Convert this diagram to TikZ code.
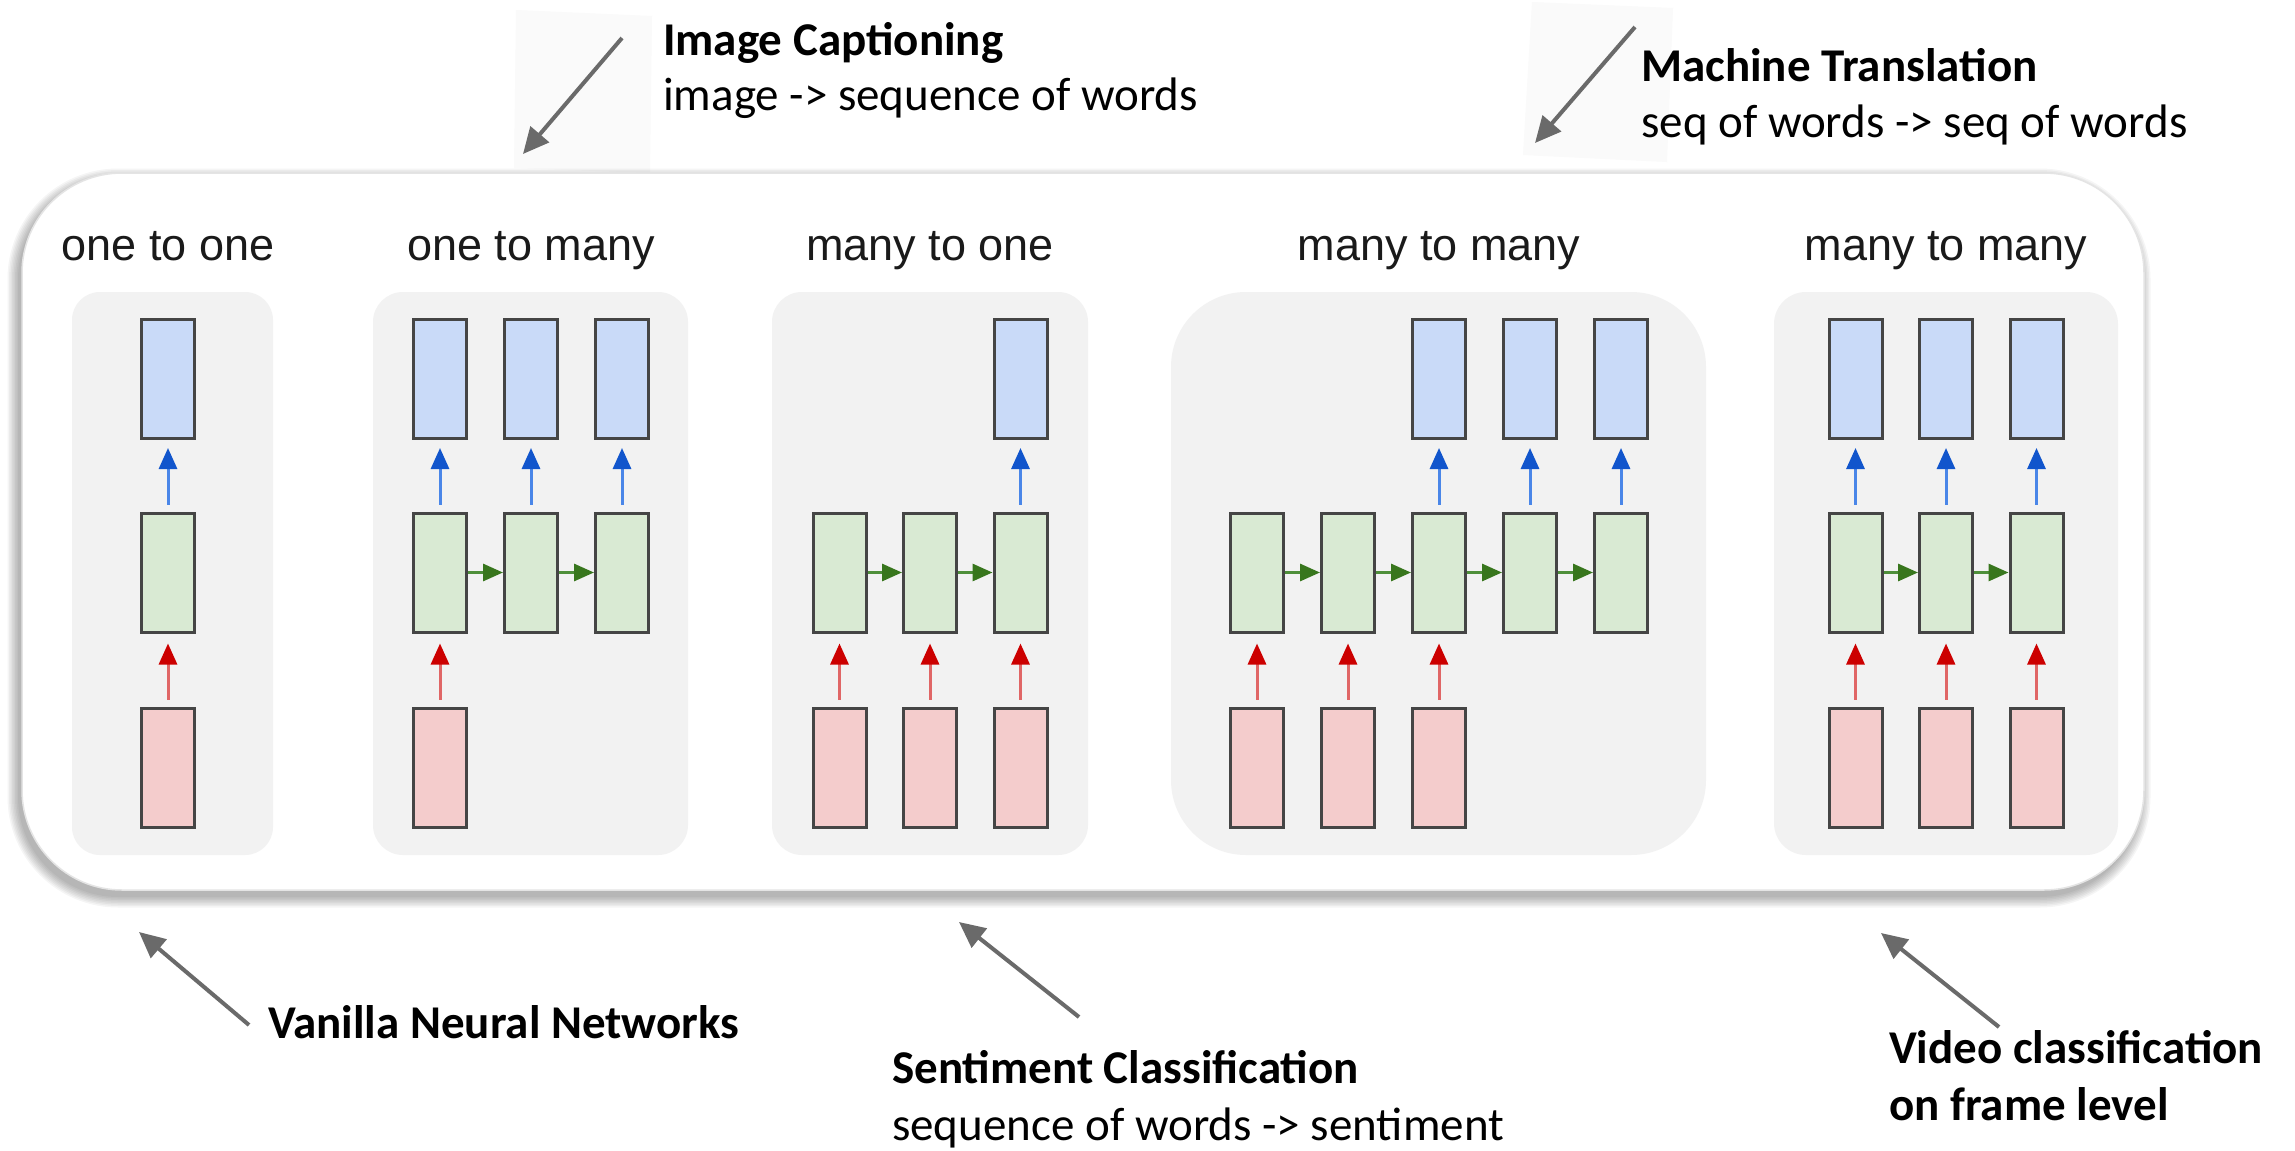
\documentclass[tikz,border=0pt]{standalone}
\usepackage{fontspec}
\setmainfont{Carlito}
\newfontfamily\titlefont{Liberation Sans}
\usetikzlibrary{arrows.meta,calc}

\definecolor{outFill}{HTML}{C9DAF8}
\definecolor{hidFill}{HTML}{D9EAD3}
\definecolor{inFill}{HTML}{F4CCCC}
\definecolor{cellEdge}{HTML}{454545}
\definecolor{panelFill}{HTML}{F2F2F2}
\definecolor{frameEdge}{HTML}{E4E4E4}
\definecolor{titleInk}{HTML}{1A1A1A}
\definecolor{outShaft}{HTML}{4A86E8}
\definecolor{outTip}{HTML}{1155CC}
\definecolor{inShaft}{HTML}{E06666}
\definecolor{inTip}{HTML}{CC0000}
\definecolor{recShaft}{HTML}{4E8F3A}
\definecolor{recTip}{HTML}{38761D}
\definecolor{pointerInk}{HTML}{6A6A6A}
\definecolor{noteBack}{HTML}{FAFAFA}

\begin{document}
\begin{tikzpicture}[x=1pt,y=-1pt,
  cell/.style={draw=cellEdge, line width=3pt, minimum width=53pt, minimum height=119pt, inner sep=0pt},
  outcell/.style={cell, fill=outFill},
  hidcell/.style={cell, fill=hidFill},
  incell/.style={cell, fill=inFill},
  panel/.style={fill=panelFill},
  title/.style={font=\titlefont\fontsize{45}{54}\selectfont, text=titleInk, anchor=base, inner sep=0pt},
  headline/.style={font=\bfseries\fontsize{47}{56}\selectfont, anchor=base west, inner sep=0pt},
  subline/.style={font=\fontsize{47}{56}\selectfont, anchor=base west, inner sep=0pt},
  toOut/.style={draw=outShaft, line width=3pt, -{Triangle[length=21pt,width=18pt,color=outTip]}, shorten <=7pt, shorten >=8pt},
  fromIn/.style={draw=inShaft, line width=3pt, -{Triangle[length=21pt,width=18pt,color=inTip]}, shorten <=7pt, shorten >=10pt},
  recur/.style={draw=recShaft, line width=3pt, -{Triangle[length=20pt,width=17pt,color=recTip]}},
  pointer/.style={draw=pointerInk, line width=4pt, -{Triangle[length=26pt,width=24pt]}},
]
\useasboundingbox (0,0) rectangle (2295,1151);
\fill[white] (0,0) rectangle (2295,1151);

% faint backdrops behind the upper pointers
\fill[noteBack] (516,10) -- (652,16) -- (650,173) -- (514,168) -- cycle;
\fill[noteBack] (1532,2) -- (1673,8) -- (1667,162) -- (1523,155) -- cycle;

% soft shadow under the main frame
\foreach \e in {0,1.5,...,10.5}
  \fill[black, opacity=0.04, rounded corners=100pt+\e pt]
    (22-4-\e,173+6-\e) rectangle (2144-4+\e,890+7+\e);

% main frame
\filldraw[fill=white, draw=frameEdge, line width=1.5pt, rounded corners=100pt]
  (22,173) rectangle (2144,890);

% panels
\fill[panel, rounded corners=28pt] (72,292) rectangle (273,855);
\fill[panel, rounded corners=30pt] (373,292) rectangle (688,855);
\fill[panel, rounded corners=30pt] (772,292) rectangle (1088,855);
\fill[panel, rounded corners=75pt] (1171,292) rectangle (1706,855);
\fill[panel, rounded corners=32pt] (1774,292) rectangle (2118,855);

% panel titles
\node[title] (t1) at (168,260) {one to one};
\node[title] (t2) at (531,260) {one to many};
\node[title] (t3) at (930,260) {many to one};
\node[title] (t4) at (1439,260) {many to many};
\node[title] (t5) at (1946,260) {many to many};

% one to one
\node[outcell] (aO1) at (168,379) {};
\node[hidcell] (aH1) at (168,572.5) {};
\node[incell]  (aI1) at (168,767.5) {};
\draw[toOut]  (aH1.north) -- (aO1.south);
\draw[fromIn] (aI1.north) -- (aH1.south);

% one to many
\foreach \x [count=\i] in {440,531,622} {
  \node[outcell] (bO\i) at (\x,379) {};
  \node[hidcell] (bH\i) at (\x,572.5) {};
  \draw[toOut] (bH\i.north) -- (bO\i.south);
}
\node[incell] (bI1) at (440,767.5) {};
\draw[fromIn] (bI1.north) -- (bH1.south);
\draw[recur] (bH1.east) -- (bH2.west);
\draw[recur] (bH2.east) -- (bH3.west);

% many to one
\foreach \x [count=\i] in {839.5,930,1020.5} {
  \node[hidcell] (cH\i) at (\x,572.5) {};
  \node[incell]  (cI\i) at (\x,767.5) {};
  \draw[fromIn] (cI\i.north) -- (cH\i.south);
}
\node[outcell] (cO3) at (1020.5,379) {};
\draw[toOut] (cH3.north) -- (cO3.south);
\draw[recur] (cH1.east) -- (cH2.west);
\draw[recur] (cH2.east) -- (cH3.west);

% many to many (delayed)
\foreach \x [count=\i] in {1257,1348,1439,1530,1621} {
  \node[hidcell] (dH\i) at (\x,572.5) {};
}
\foreach \x [count=\i] in {1257,1348,1439} {
  \node[incell] (dI\i) at (\x,767.5) {};
  \draw[fromIn] (dI\i.north) -- (dH\i.south);
}
\foreach \i/\x in {3/1439,4/1530,5/1621} {
  \node[outcell] (dO\i) at (\x,379) {};
  \draw[toOut] (dH\i.north) -- (dO\i.south);
}
\draw[recur] (dH1.east) -- (dH2.west);
\draw[recur] (dH2.east) -- (dH3.west);
\draw[recur] (dH3.east) -- (dH4.west);
\draw[recur] (dH4.east) -- (dH5.west);

% many to many (synced)
\foreach \x [count=\i] in {1855.5,1946,2036.5} {
  \node[outcell] (eO\i) at (\x,379) {};
  \node[hidcell] (eH\i) at (\x,572.5) {};
  \node[incell]  (eI\i) at (\x,767.5) {};
  \draw[toOut]  (eH\i.north) -- (eO\i.south);
  \draw[fromIn] (eI\i.north) -- (eH\i.south);
}
\draw[recur] (eH1.east) -- (eH2.west);
\draw[recur] (eH2.east) -- (eH3.west);

% annotations above
\node[headline] (icT) at (663,55) {Image Captioning};
\node[subline]  (icS) at (663,110) {image -> sequence of words};
\coordinate (icA) at (622,38);
\coordinate (icB) at (523,154);
\draw[pointer] (icA) -- (icB);

\node[headline] (mtT) at (1641,81) {Machine Translation};
\node[subline]  (mtS) at (1641,137) {seq of words -> seq of words};
\coordinate (mtA) at (1635,27);
\coordinate (mtB) at (1535,143);
\draw[pointer] (mtA) -- (mtB);

% annotations below
\node[headline] (vnT) at (268,1038) {Vanilla Neural Networks};
\coordinate (vnA) at (249,1025);
\coordinate (vnB) at (139,932);
\draw[pointer] (vnA) -- (vnB);

\node[headline] (scT) at (892,1083) {Sentiment Classification};
\node[subline]  (scS) at (892,1140) {sequence of words -> sentiment};
\coordinate (scA) at (1079,1017);
\coordinate (scB) at (959,922);
\draw[pointer] (scA) -- (scB);

\node[headline] (vcT) at (1889,1063) {Video classification};
\node[headline] (vcS) at (1889,1120) {on frame level};
\coordinate (vcA) at (1999,1027);
\coordinate (vcB) at (1881,933);
\draw[pointer] (vcA) -- (vcB);
\end{tikzpicture}
\end{document}
